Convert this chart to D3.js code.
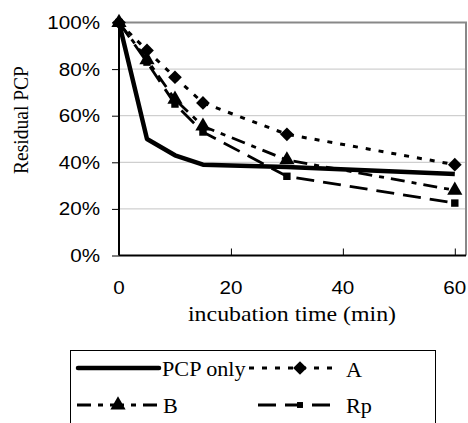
<!DOCTYPE html>
<html><head><meta charset="utf-8">
<script src="https://cdn.jsdelivr.net/npm/d3@7"></script>
<style>body{margin:0;background:#fff}svg{display:block}</style>
</head><body>
<svg id="c" width="468" height="423"></svg>
<script>
const times = [0, 5, 10, 15, 30, 60];
const pcpOnly = [100, 50, 43, 39, 38, 35];
const seriesA = [100, 88, 76.5, 65.5, 52, 39];
const seriesB = [100, 84, 67, 55.5, 41, 28];
const seriesRp = [100, 83, 65, 53, 34, 22.5];
const xTicks = [0, 20, 40, 60];
const yTicks = [0, 20, 40, 60, 80, 100];
const seriesNames = ["PCP only", "A", "B", "Rp"];

const svg = d3.select("#c");
const SX = 1.11;
const x = d3.scaleLinear().domain([0, 62]).range([119, 466]);
const y = d3.scaleLinear().domain([0, 100]).range([255.5, 22.5]);

// gridlines
svg.append("g").selectAll("line").data(yTicks.filter(d => d > 0 && d < 100)).join("line")
  .attr("x1", x(0)).attr("x2", x(62)).attr("y1", d => y(d)).attr("y2", d => y(d))
  .attr("stroke", "#c4c4c4").attr("stroke-width", 1);
// frame top/right
svg.append("path").attr("d", `M${x(0)},${y(100)}H${x(62)}V${y(0)}`)
  .attr("fill", "none").attr("stroke", "#888").attr("stroke-width", 2);

// axes
const yAxis = d3.axisLeft(y).tickValues(yTicks).tickSize(7).tickFormat(() => "");
const gy = svg.append("g").attr("transform", `translate(${x(0)},0)`).call(yAxis);
gy.select(".domain").attr("stroke", "#000").attr("stroke-width", 2).attr("d", `M0,${y(100)}V${y(0)}`);
gy.selectAll(".tick line").attr("stroke", "#000").attr("stroke-width", 1);
const xAxis = d3.axisBottom(x).tickValues(xTicks).tickSize(-7).tickFormat(() => "");
const gx = svg.append("g").attr("transform", `translate(0,${y(0)})`).call(xAxis);
gx.select(".domain").attr("stroke", "#000").attr("stroke-width", 2).attr("d", `M${x(0)},0H${x(62)}`);
gx.selectAll(".tick line").attr("stroke", "#000").attr("stroke-width", 1);

function txt(g, s, tx, ty, size, family, anchor, rot) {
  return g.append("text").text(s)
    .attr("transform", `translate(${tx},${ty})` + (rot ? ` rotate(${rot})` : "") + ` scale(${rot ? 1 : SX},${rot ? SX : 1})`)
    .attr("font-size", size).attr("font-family", family).attr("text-anchor", anchor).attr("fill", "#000");
}
const sans = "'Liberation Sans', Arial, sans-serif";
const serif = "'Liberation Serif', 'Times New Roman', serif";
yTicks.forEach(d => txt(svg, d + "%", 100, y(d) + 6.5, 18.6, sans, "end"));
xTicks.forEach(d => txt(svg, String(d), x(d), 294, 18.6, sans, "middle"));
txt(svg, "incubation time (min)", 292, 321, 21.5, serif, "middle");
txt(svg, "Residual PCP", 28, 120, 19.5, serif, "middle", -90);

// series
const styles = [
  {data: pcpOnly, dash: null, w: 4.5, marker: null},
  {data: seriesA, dash: "5,8", w: 3, marker: "diamond"},
  {data: seriesB, dash: "14,7,5,7", w: 2.8, marker: "triangle"},
  {data: seriesRp, dash: "18,9", w: 2.8, marker: "square"}
];
const line = d3.line().x((d, i) => x(times[i])).y(d => y(d));
const sym = {
  diamond: d3.symbol().type(d3.symbolDiamond2).size(120),
  triangle: d3.symbol().type(d3.symbolTriangle).size(100),
  square: d3.symbol().type(d3.symbolSquare).size(55)
};
function markerPath(type, cx, cy, g, scale) {
  const p = g.append("path").attr("d", sym[type]());
  p.attr("transform", `translate(${cx},${cy}) scale(${scale || 1})`).attr("fill", "#000");
}
styles.forEach(s => {
  svg.append("path").datum(s.data).attr("d", line).attr("fill", "none")
    .attr("stroke", "#000").attr("stroke-width", s.w).attr("stroke-dasharray", s.dash)
    .attr("stroke-linejoin", "round");
});
styles.forEach(s => {
  if (!s.marker) return;
  const g = svg.append("g");
  s.data.forEach((v, i) => markerPath(s.marker, x(times[i]), y(v), g));
});

// legend
const lg = svg.append("g");
lg.append("rect").attr("x", 70.5).attr("y", 350.5).attr("width", 365).attr("height", 90)
  .attr("fill", "#fff").attr("stroke", "#000").attr("stroke-width", 1);
const items = [
  {x1: 78, x2: 159, y: 368, tx: 162, ty: 376, mx: null},
  {x1: 249, x2: 340, y: 368, tx: 346, ty: 377, mx: 300},
  {x1: 77, x2: 160, y: 405, tx: 163, ty: 413, mx: 118},
  {x1: 258, x2: 338, y: 405, tx: 346, ty: 413, mx: 300}
];
items.forEach((it, i) => {
  const s = styles[i];
  lg.append("line").attr("x1", it.x1).attr("x2", it.x2).attr("y1", it.y).attr("y2", it.y)
    .attr("stroke", "#000").attr("stroke-width", s.w).attr("stroke-dasharray", s.dash)
    .attr("stroke-linecap", i === 0 ? "round" : "butt");
  if (s.marker) markerPath(s.marker, it.mx, it.y, lg, s.marker === "square" ? 0.8 : 1);
  txt(lg, seriesNames[i], it.tx, it.ty, 20, serif, "start");
});
</script>
</body></html>
